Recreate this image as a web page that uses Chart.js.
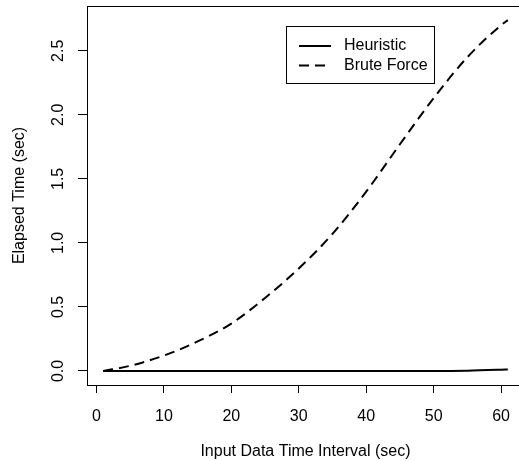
<!DOCTYPE html>
<html>
<head>
<meta charset="utf-8">
<script src="https://cdn.jsdelivr.net/npm/chart.js@4/dist/chart.umd.min.js"></script>
<style>
  html, body { margin: 0; padding: 0; background: #fff; overflow: hidden; }
  #wrap { width: 525px; height: 461px; }
</style>
</head>
<body>
<div id="wrap"><canvas id="grafico"></canvas></div>
<script>
// valores
const intervalos = [1, 5, 10, 15, 20, 25, 30, 35, 40, 45, 50, 55, 60, 61];
const heuristica = [0, 0, 0, 0, 0, 0, 0, 0, 0, 0, -0.001, 0.002, 0.010, 0.012];
const forcaBruta = [0, 0.04, 0.12, 0.23, 0.37, 0.57, 0.80, 1.07, 1.40, 1.77, 2.13, 2.45, 2.70, 2.74];
const ticksX = [0, 10, 20, 30, 40, 50, 60];
const ticksY = [0, 0.5, 1.0, 1.5, 2.0, 2.5];

const fonte = "'Liberation Sans', Arial, Helvetica, sans-serif";

function pontos(valores) {
    return intervalos.map((x, i) => ({ x: x, y: valores[i] }));
}

// caixa em volta da area do grafico
const caixaPlugin = {
    id: 'caixa',
    afterDraw(chart) {
        const ctx = chart.ctx;
        const a = chart.chartArea;
        ctx.save();
        ctx.strokeStyle = '#000';
        ctx.lineWidth = 1;
        ctx.strokeRect(a.left + 0.5, a.top + 0.5, a.right - a.left, a.bottom - a.top);
        ctx.restore();
    }
};

// rótulos do eixo y girados, como no R
const rotulosYPlugin = {
    id: 'rotulosY',
    afterDraw(chart) {
        const ctx = chart.ctx;
        const escala = chart.scales.y;
        const x = chart.chartArea.left - 28;
        ctx.save();
        ctx.fillStyle = '#000';
        ctx.font = '16px ' + fonte;
        ctx.textAlign = 'center';
        ctx.textBaseline = 'middle';
        ticksY.forEach((v) => {
            ctx.save();
            ctx.translate(x, escala.getPixelForValue(v));
            ctx.rotate(-Math.PI / 2);
            ctx.fillText(v.toFixed(1), 0, 0);
            ctx.restore();
        });
        ctx.restore();
    }
};

// legenda dentro do grafico
const legendaPlugin = {
    id: 'legenda',
    afterDraw(chart) {
        const ctx = chart.ctx;
        ctx.save();
        ctx.strokeStyle = '#000';
        ctx.lineWidth = 1;
        ctx.strokeRect(286.5, 26.5, 148, 57);
        ctx.font = '16px ' + fonte;
        ctx.fillStyle = '#000';
        ctx.textBaseline = 'middle';
        ctx.textAlign = 'left';
        chart.data.datasets.forEach((ds, i) => {
            const y = 46 + i * 19.5;
            ctx.beginPath();
            ctx.lineWidth = ds.borderWidth;
            ctx.setLineDash(ds.borderDash || []);
            ctx.moveTo(299, y);
            ctx.lineTo(331, y);
            ctx.stroke();
            ctx.setLineDash([]);
            ctx.fillText(ds.label, 344, y);
        });
        ctx.restore();
    }
};

const config = {
    type: 'line',
    data: {
        datasets: [{
            label: 'Heuristic',
            data: pontos(heuristica),
            borderColor: '#000',
            borderWidth: 2,
            pointRadius: 0,
            cubicInterpolationMode: 'monotone',
            fill: false
        }, {
            label: 'Brute Force',
            data: pontos(forcaBruta),
            borderColor: '#000',
            borderWidth: 2,
            borderDash: [10, 6],
            pointRadius: 0,
            cubicInterpolationMode: 'monotone',
            fill: false
        }]
    },
    options: {
        responsive: false,
        animation: false,
        devicePixelRatio: 1,
        layout: { padding: { top: 6, right: 1, left: 0, bottom: 0 } },
        plugins: {
            legend: { display: false },
            tooltip: { enabled: false }
        },
        scales: {
            x: {
                type: 'linear',
                min: -1.4,
                max: 63.4,
                afterBuildTicks: (s) => { s.ticks = ticksX.map((v) => ({ value: v })); },
                afterFit: (s) => { s.height = 76; },
                border: { display: false },
                grid: { drawOnChartArea: false, drawTicks: true, tickLength: 8, color: '#000', lineWidth: 1 },
                ticks: { color: '#000', font: { family: fonte, size: 16 }, padding: 14, maxRotation: 0 },
                title: { display: true, text: 'Input Data Time Interval (sec)', color: '#000', font: { family: fonte, size: 16 }, padding: 0 }
            },
            y: {
                type: 'linear',
                min: -0.11,
                max: 2.85,
                afterBuildTicks: (s) => { s.ticks = ticksY.map((v) => ({ value: v })); },
                afterFit: (s) => { s.width = 87; },
                border: { display: false },
                grid: { drawOnChartArea: false, drawTicks: true, tickLength: 9, color: '#000', lineWidth: 1 },
                ticks: { display: false },
                title: { display: true, text: 'Elapsed Time (sec)', color: '#000', font: { family: fonte, size: 16 }, padding: { top: 10, bottom: 0 } }
            }
        }
    },
    plugins: [caixaPlugin, rotulosYPlugin, legendaPlugin]
};

const canvas = document.getElementById('grafico');
canvas.width = 525;
canvas.height = 461;
new Chart(canvas, config);
</script>
</body>
</html>
